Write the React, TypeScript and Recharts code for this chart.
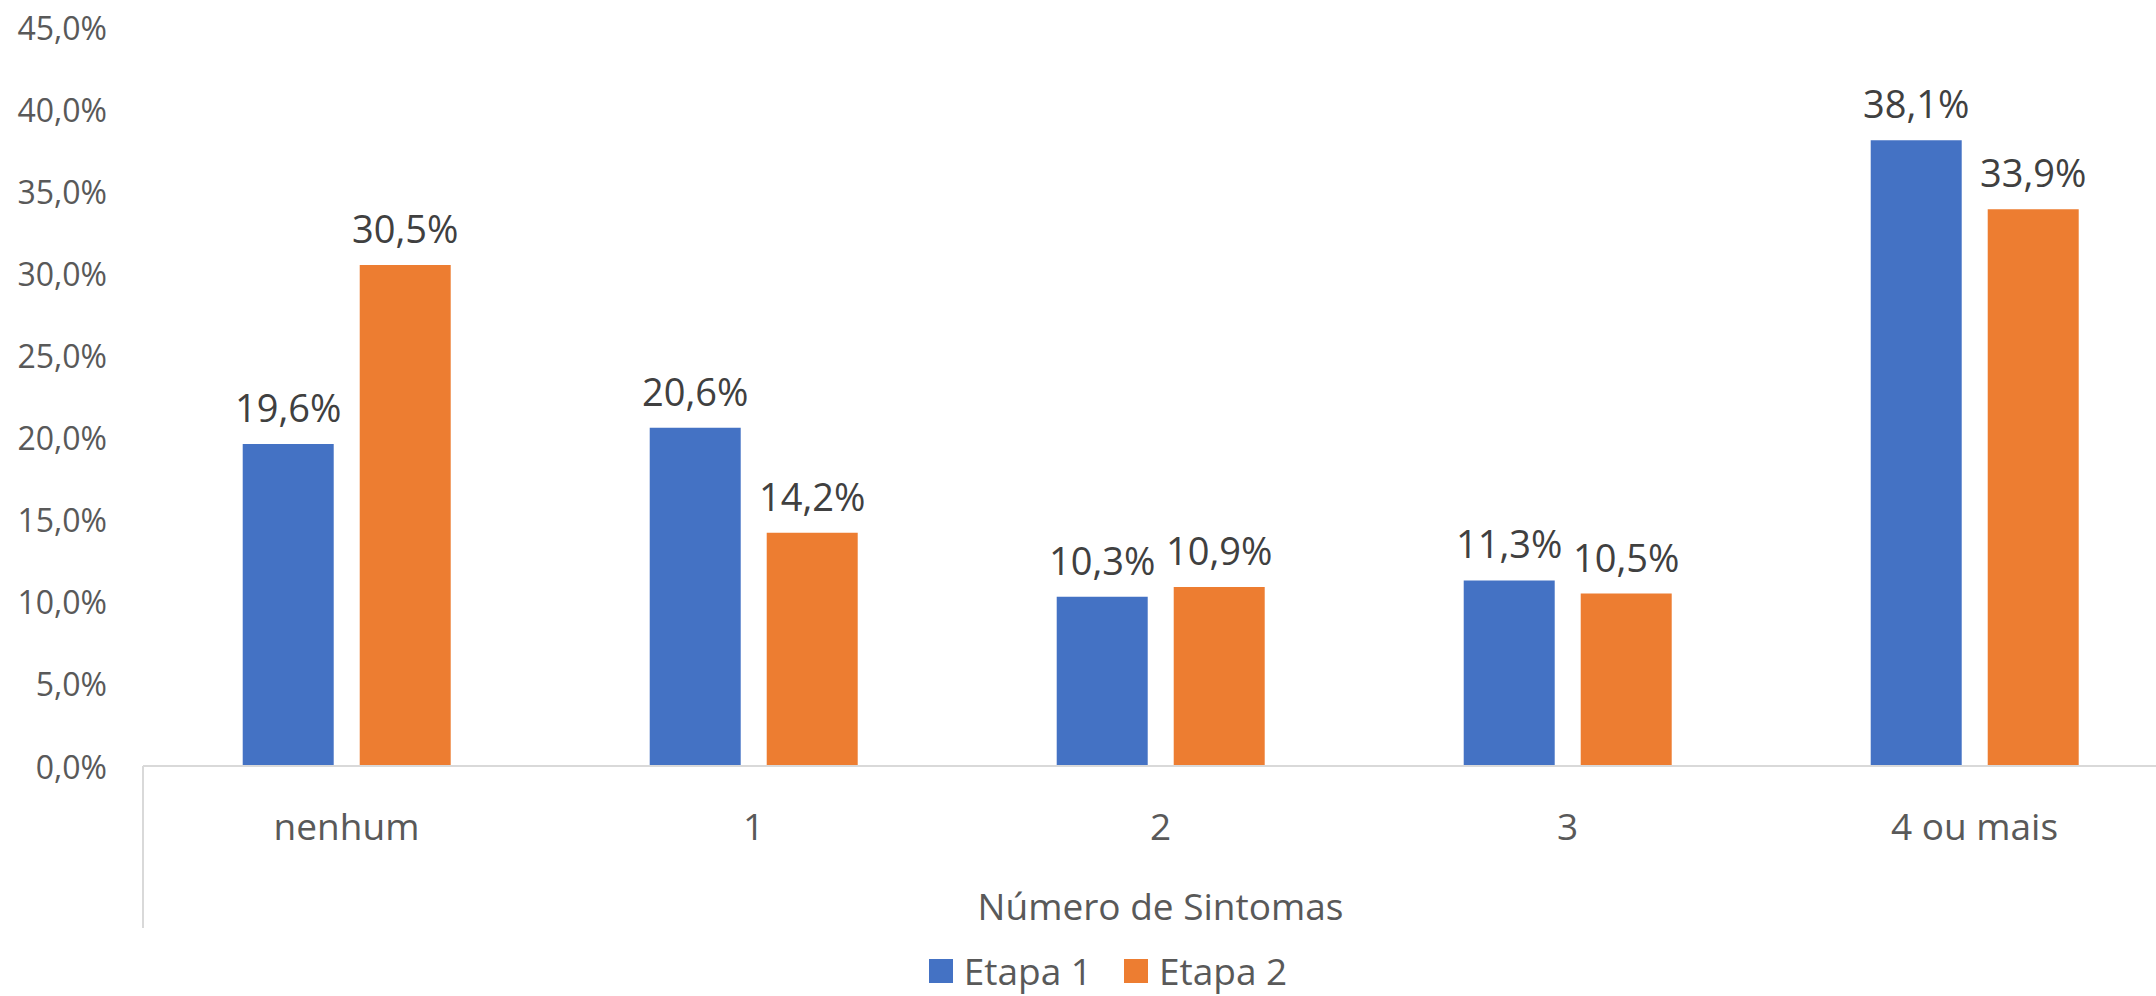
import React from 'react';
import { BarChart, Bar, XAxis, YAxis, Legend, LabelList } from 'recharts';

const categories = ['nenhum', '1', '2', '3', '4 ou mais'];
const etapa1 = [19.6, 20.6, 10.3, 11.3, 38.1];
const etapa2 = [30.5, 14.2, 10.9, 10.5, 33.9];
const yTicks = [0, 5, 10, 15, 20, 25, 30, 35, 40, 45];
const seriesNames = ['Etapa 1', 'Etapa 2'];
const seriesColors = ['#4472C4', '#ED7D31'];
const axisTitle = 'Número de Sintomas';

const data = categories.map((c, i) => ({ cat: c, e1: etapa1[i], e2: etapa2[i] }));

const FONT = "'Open Sans', sans-serif";
const fmt = (v: number) => v.toFixed(1).replace('.', ',') + '%';

const XTick = (props: any) => {
  const { x, y, payload } = props;
  return (
    <text x={x} y={y + 59} textAnchor="middle" dominantBaseline="central" fill="#595959" fontSize={37} fontFamily={FONT}>
      {payload.value}
    </text>
  );
};

const YTick = (props: any) => {
  const { x, y, payload } = props;
  return (
    <text x={x} y={y} textAnchor="end" dominantBaseline="central" fill="#595959" fontSize={32} fontFamily={FONT}>
      {fmt(payload.value)}
    </text>
  );
};

const BarLabel = (props: any) => {
  const { x, y, width, value } = props;
  return (
    <text x={x + width / 2} y={y - 37} textAnchor="middle" dominantBaseline="central" fill="#404040" fontSize={38} fontFamily={FONT}>
      {fmt(value)}
    </text>
  );
};

const AxisTitle = (props: any) => {
  const vb = props.viewBox || {};
  return (
    <g>
      <line x1={vb.x} y1={vb.y} x2={vb.x} y2={vb.y + 162} stroke="#D9D9D9" strokeWidth={2} />
      <text x={vb.x + vb.width / 2} y={vb.y + 139} textAnchor="middle" dominantBaseline="central" fill="#595959" fontSize={37} fontFamily={FONT}>
        {axisTitle}
      </text>
    </g>
  );
};

const LegendContent = () => (
  <div style={{ display: 'flex', justifyContent: 'center', alignItems: 'center', height: 40, fontFamily: FONT, fontSize: 37, color: '#595959' }}>
    {seriesNames.map((n, i) => (
      <div key={n} style={{ display: 'flex', alignItems: 'center', marginLeft: i === 0 ? 0 : 32 }}>
        <div style={{ width: 24, height: 24, background: seriesColors[i], marginRight: 11 }} />
        <span style={{ lineHeight: '40px' }}>{n}</span>
      </div>
    ))}
  </div>
);

export default function App() {
  return (
    <div style={{ position: 'absolute', left: 0, top: 0, width: 2156, height: 996, overflow: 'hidden', background: '#fff' }}>
      <BarChart
        width={2216}
        height={996}
        data={data}
        margin={{ top: 27, right: 38, left: 0, bottom: 5 }}
        barCategoryGap="24.5%"
        barGap={26}
      >
        <YAxis
          width={143}
          domain={[0, 45]}
          ticks={yTicks}
          axisLine={false}
          tickLine={false}
          tickSize={0}
          tickMargin={36}
          tick={<YTick />}
          interval={0}
        />
        <XAxis
          dataKey="cat"
          height={185}
          axisLine={{ stroke: '#D9D9D9', strokeWidth: 2 }}
          tickLine={false}
          tickSize={0}
          tickMargin={0}
          tick={<XTick />}
          interval={0}
          label={<AxisTitle />}
        />
        <Legend
          verticalAlign="bottom"
          height={40}
          wrapperStyle={{ left: 0, width: 2216, bottom: 5, height: 40 }}
          content={<LegendContent />}
        />
        <Bar dataKey="e1" name={seriesNames[0]} fill={seriesColors[0]} isAnimationActive={false}>
          <LabelList dataKey="e1" content={<BarLabel />} />
        </Bar>
        <Bar dataKey="e2" name={seriesNames[1]} fill={seriesColors[1]} isAnimationActive={false}>
          <LabelList dataKey="e2" content={<BarLabel />} />
        </Bar>
      </BarChart>
    </div>
  );
}
